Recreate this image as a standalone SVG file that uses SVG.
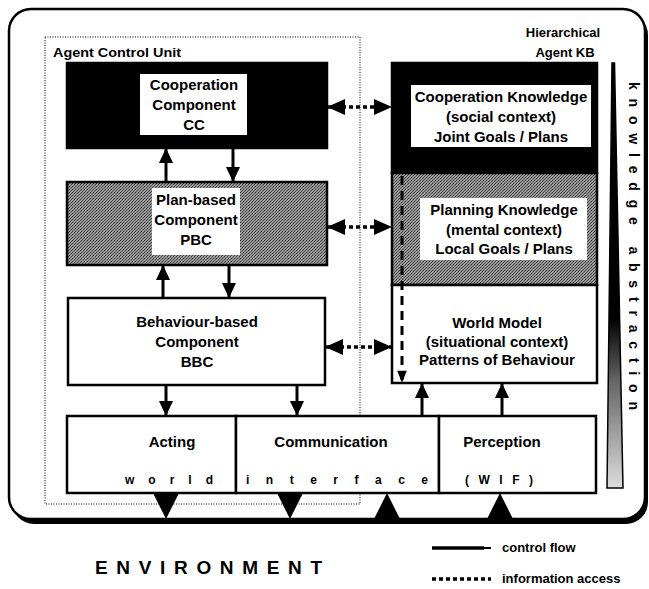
<svg xmlns="http://www.w3.org/2000/svg" width="649" height="589" viewBox="0 0 649 589">
<style>
  text { font-family: "Liberation Sans", Arial, sans-serif; font-weight: bold; fill: #000; }
  .t15 { font-size: 15px; text-anchor: middle; }
  .t13 { font-size: 13px; }
  .sp { font-size: 12px; }
  .box { stroke: #000; stroke-width: 2.5; }
  .ctl { stroke: #000; stroke-width: 3; fill: none; }
  .info { stroke: #000; stroke-width: 3.5; fill: none; stroke-dasharray: 4 3; }
  .head { fill: #000; }
</style>
<defs>
  <pattern id="dither" width="3" height="3" patternUnits="userSpaceOnUse">
    <rect width="3" height="3" fill="#9a9a9a"/>
    <rect x="0" y="0" width="1" height="1" fill="#333"/>
    <rect x="2" y="1" width="1" height="1" fill="#444"/>
    <rect x="1" y="2" width="1" height="1" fill="#555"/>
  </pattern>
  <linearGradient id="wedgeGrad" x1="0" y1="0" x2="0" y2="1">
    <stop offset="0" stop-color="#000"/>
    <stop offset="0.6" stop-color="#000"/>
    <stop offset="0.75" stop-color="#666"/>
    <stop offset="1" stop-color="#ddd"/>
  </linearGradient>
  <marker id="arr" viewBox="0 0 15 14" refX="14" refY="7" markerWidth="15" markerHeight="14" markerUnits="userSpaceOnUse" orient="auto">
    <path d="M0,0 L15,7 L0,14 Z" fill="#000"/>
  </marker>
  <marker id="arrI" viewBox="0 0 18 16" refX="17" refY="8" markerWidth="18" markerHeight="16" markerUnits="userSpaceOnUse" orient="auto-start-reverse">
    <path d="M0,0 L18,8 L0,16 Z" fill="#000"/>
  </marker>
  <marker id="arrD" viewBox="0 0 12 15" refX="14" refY="6" markerWidth="15" markerHeight="12" markerUnits="userSpaceOnUse" orient="auto">
    <path d="M0,0 L15,6 L0,12 Z" fill="#000"/>
  </marker>
</defs>

<!-- outer frame -->
<g id="frame">
  <rect x="12" y="13" width="636" height="511" rx="22" fill="#000"/>
  <rect x="9" y="9" width="636" height="510" rx="22" fill="#fff" stroke="#000" stroke-width="2.5"/>
</g>

<!-- agent control unit container -->
<g id="acu">
  <rect x="45" y="37" width="315" height="467" fill="none" stroke="#000" stroke-width="1" stroke-dasharray="1 1.5"/>
  <text class="t13" x="53" y="57" font-size="13.5" textLength="128" lengthAdjust="spacingAndGlyphs">Agent Control Unit</text>
</g>

<g id="kb-label">
  <text class="t13" x="563" y="37" text-anchor="middle">Hierarchical</text>
  <text class="t13" x="565" y="57" text-anchor="middle">Agent KB</text>
</g>

<g id="cc">
  <rect x="67" y="63" width="260" height="85" fill="#000" class="box"/>
  <rect x="140" y="74" width="107" height="61" fill="#fff"/>
  <text class="t15" x="194" y="90">Cooperation</text>
  <text class="t15" x="194" y="110">Component</text>
  <text class="t15" x="194" y="130">CC</text>
</g>

<g id="pbc">
  <rect x="67" y="182" width="260" height="83" fill="url(#dither)" class="box"/>
  <rect x="152" y="188" width="88" height="67" fill="#fff"/>
  <text class="t15" x="196" y="205">Plan-based</text>
  <text class="t15" x="196" y="225">Component</text>
  <text class="t15" x="196" y="245">PBC</text>
</g>

<g id="bbc">
  <rect x="68" y="298" width="257" height="87" fill="#fff" class="box"/>
  <text class="t15" x="197" y="327">Behaviour-based</text>
  <text class="t15" x="197" y="347">Component</text>
  <text class="t15" x="197" y="367">BBC</text>
</g>

<g id="ck">
  <rect x="392" y="63" width="205" height="110" fill="#000" class="box"/>
  <rect x="411" y="85" width="180" height="62" fill="#fff"/>
  <text class="t15" x="501" y="102">Cooperation Knowledge</text>
  <text class="t15" x="501" y="122">(social context)</text>
  <text class="t15" x="501" y="142">Joint Goals /  Plans</text>
</g>

<g id="pk">
  <rect x="392" y="173" width="205" height="112" fill="url(#dither)" class="box"/>
  <rect x="420" y="198" width="167" height="62" fill="#fff"/>
  <text class="t15" x="504" y="215">Planning Knowledge</text>
  <text class="t15" x="504" y="235">(mental context)</text>
  <text class="t15" x="504" y="254">Local Goals / Plans</text>
</g>

<g id="wm">
  <rect x="392" y="285" width="205" height="98" fill="#fff" class="box"/>
  <text class="t15" x="497" y="328">World Model</text>
  <text class="t15" x="497" y="347">(situational context)</text>
  <text class="t15" x="497" y="365">Patterns of Behaviour</text>
</g>

<g id="acting">
  <rect x="67" y="416" width="169" height="77" fill="#fff" class="box"/>
  <text class="t15" x="172" y="447">Acting</text>
  <text class="sp" x="125" y="484" textLength="88" lengthAdjust="spacing">world</text>
</g>

<g id="communication">
  <rect x="236" y="416" width="203" height="77" fill="#fff" class="box"/>
  <text class="t15" x="331" y="447">Communication</text>
  <text class="sp" x="246" y="484" textLength="182" lengthAdjust="spacing">interface</text>
</g>

<g id="perception">
  <rect x="439" y="416" width="157" height="77" fill="#fff" class="box"/>
  <text class="t15" x="502" y="447">Perception</text>
  <text class="sp" x="465" y="484" textLength="68" lengthAdjust="spacing">(WIF)</text>
</g>

<g id="knowledge-abstraction">
  <polygon points="612,63 614.5,63 623,488 607,488" fill="url(#wedgeGrad)" stroke="#000" stroke-width="1.5"/>
  <text transform="translate(629,246) rotate(90)" x="0" y="0" font-size="14" text-anchor="middle" textLength="328" lengthAdjust="spacing">knowledge abstraction</text>
</g>

<!-- connectors -->
<g id="connectors">
  <!-- control flow -->
  <line class="ctl" x1="166" y1="182" x2="166" y2="149" marker-end="url(#arr)"/>
  <line class="ctl" x1="233" y1="148" x2="233" y2="181" marker-end="url(#arr)"/>
  <line class="ctl" x1="163" y1="298" x2="163" y2="266" marker-end="url(#arr)"/>
  <line class="ctl" x1="229" y1="265" x2="229" y2="297" marker-end="url(#arr)"/>
  <line class="ctl" x1="166" y1="385" x2="166" y2="415" marker-end="url(#arr)"/>
  <line class="ctl" x1="297" y1="385" x2="297" y2="415" marker-end="url(#arr)"/>
  <line class="ctl" x1="422" y1="416" x2="422" y2="384" marker-end="url(#arr)"/>
  <line class="ctl" x1="502" y1="416" x2="502" y2="384" marker-end="url(#arr)"/>
  <!-- information access -->
  <line class="info" x1="328" y1="107" x2="391" y2="107" marker-start="url(#arrI)" marker-end="url(#arrI)"/>
  <line class="info" x1="328" y1="227" x2="391" y2="227" marker-start="url(#arrI)" marker-end="url(#arrI)"/>
  <line class="info" x1="326" y1="347" x2="391" y2="347" marker-start="url(#arrI)" marker-end="url(#arrI)"/>
  <line x1="402" y1="176" x2="402" y2="382" stroke="#000" stroke-width="3" stroke-dasharray="9 6" marker-end="url(#arrD)"/>
  <!-- environment links -->
  <polygon class="head" points="153,493 179,493 166,519"/>
  <polygon class="head" points="277,493 303,493 290,519"/>
  <polygon class="head" points="374,519 400,519 387,493"/>
  <polygon class="head" points="487,519 513,519 500,493"/>
</g>

<g id="environment">
  <text x="95" y="574" font-size="19" textLength="227" lengthAdjust="spacing">ENVIRONMENT</text>
</g>

<g id="legend">
  <line x1="432" y1="548" x2="484" y2="548" stroke="#000" stroke-width="3.5"/>
  <line x1="484" y1="548" x2="491" y2="548" stroke="#000" stroke-width="2"/>
  <text class="t13" x="502" y="552">control flow</text>
  <line class="info" x1="432" y1="579" x2="491" y2="579" stroke-width="3" stroke-dasharray="4 3"/>
  <text class="t13" x="502" y="583">information access</text>
</g>
</svg>
